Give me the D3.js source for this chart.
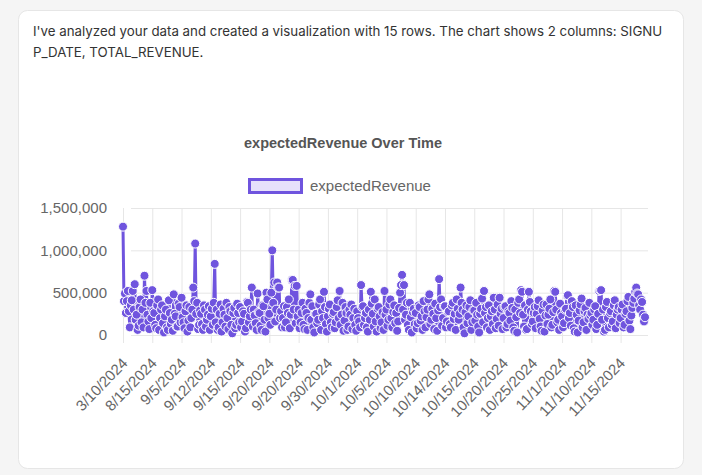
<!DOCTYPE html>
<html>
<head>
<meta charset="utf-8">
<script src="https://cdn.jsdelivr.net/npm/d3@7"></script>
<style>
  body { margin: 0; background: #f5f5f5; }
  svg { display: block; }
</style>
</head>
<body>
<div id="chart"></div>
<script>
// revenue per signup, in thousands (30 points between shown labels)
const revenueK = [
  1280, 400, 490, 260, 400, 520, 280, 90, 350, 410, 520, 300, 600, 180, 240, 60, 110, 330, 420, 150, 300, 90, 700, 380, 520, 240, 160, 70, 380, 200,
  530, 280, 260, 120, 80, 350, 420, 60, 200, 300, 350, 140, 30, 220, 300, 90, 60, 410, 260, 130, 180, 50, 480, 250, 220, 100, 100, 370, 330, 150,
  440, 210, 150, 80, 280, 350, 40, 170, 330, 90, 200, 300, 560, 400, 1080, 250, 380, 70, 120, 290, 250, 130, 60, 350, 300, 100, 180, 240, 340, 60,
  220, 310, 120, 380, 840, 150, 300, 60, 90, 250, 360, 40, 150, 310, 240, 100, 380, 200, 70, 330, 280, 120, 20, 260, 320, 80, 120, 370, 260, 150,
  330, 90, 160, 280, 250, 40, 80, 390, 380, 150, 220, 300, 560, 100, 300, 230, 140, 60, 490, 270, 260, 110, 60, 350, 340, 180, 40, 500, 420, 200,
  250, 120, 500, 1000, 380, 620, 160, 300, 620, 560, 560, 200, 280, 90, 200, 340, 90, 150, 330, 260, 420, 80, 240, 650, 650, 300, 580, 140, 580, 220,
  300, 80, 150, 260, 380, 120, 70, 310, 260, 60, 200, 380, 480, 180, 340, 90, 30, 250, 250, 140, 180, 360, 420, 60, 280, 200, 510, 330, 130, 40,
  220, 310, 360, 150, 90, 250, 270, 80, 150, 330, 410, 200, 520, 120, 240, 380, 50, 170, 330, 260, 60, 100, 300, 240, 360, 70, 200, 310, 120, 50,
  280, 200, 160, 90, 590, 330, 340, 120, 200, 260, 90, 40, 300, 180, 510, 370, 250, 100, 420, 160, 40, 310, 330, 220, 80, 150, 270, 60, 520, 240,
  300, 110, 180, 360, 420, 200, 90, 270, 350, 140, 260, 50, 160, 320, 500, 590, 710, 300, 590, 180, 240, 380, 120, 60, 380, 210, 30, 270, 310, 130,
  260, 80, 140, 350, 330, 170, 220, 60, 400, 280, 90, 210, 300, 420, 480, 130, 180, 310, 250, 70, 370, 200, 50, 290, 660, 330, 420, 110, 200, 340,
  340, 90, 160, 270, 280, 130, 90, 350, 380, 190, 250, 60, 420, 310, 180, 250, 560, 380, 300, 90, 20, 270, 350, 140, 220, 330, 410, 60, 150, 290,
  290, 170, 380, 240, 100, 30, 250, 310, 430, 150, 520, 260, 330, 90, 200, 350, 60, 220, 280, 130, 440, 300, 80, 190, 360, 110, 440, 250, 310, 70,
  200, 330, 340, 90, 130, 280, 260, 170, 400, 320, 90, 50, 300, 210, 30, 380, 420, 260, 530, 510, 240, 100, 350, 60, 70, 300, 510, 390, 280, 130,
  160, 260, 330, 80, 250, 340, 410, 190, 100, 50, 290, 360, 40, 230, 360, 130, 240, 310, 420, 90, 120, 270, 520, 510, 300, 150, 180, 60, 370, 260,
  220, 90, 140, 300, 310, 470, 470, 200, 260, 110, 400, 330, 80, 40, 350, 240, 30, 170, 290, 360, 430, 90, 150, 280, 320, 60, 240, 190, 380, 230,
  260, 120, 180, 300, 340, 70, 120, 250, 520, 530, 530, 180, 300, 40, 60, 330, 390, 200, 90, 260, 280, 120, 160, 350, 410, 80, 240, 300, 330, 140,
  200, 300, 360, 90, 120, 250, 280, 400, 450, 170, 70, 230, 320, 380, 430, 510, 560, 490, 480, 350, 300, 420, 390, 240, 160, 210
];
const revenue = revenueK.map(v => v * 1000);

// signup dates that Chart.js left visible on the x axis
const tickLabels = [
  '3/10/2024', '8/15/2024', '9/5/2024', '9/12/2024', '9/15/2024', '9/20/2024',
  '9/20/2024', '9/30/2024', '10/1/2024', '10/5/2024', '10/10/2024', '10/14/2024',
  '10/15/2024', '10/20/2024', '10/25/2024', '11/1/2024', '11/10/2024', '11/15/2024'
];
const tickEvery = 30;
const yTicks = [0, 500000, 1000000, 1500000];

const seriesName = 'expectedRevenue';
const purple = '#6f54de';

let width = 702,
    height = 475,
    plot = { left: 123, right: 645, top: 208, bottom: 335 };

let svg = d3.select('#chart')
  .append('svg')
    .attr('width', width)
    .attr('height', height);

// card
svg.append('rect')
  .attr('x', 18.5).attr('y', 10.5)
  .attr('width', 665).attr('height', 458)
  .attr('rx', 9)
  .attr('fill', 'white')
  .attr('stroke', '#e6e6e6');

svg.append('text')
  .attr('x', 33).attr('y', 36)
  .style('font-family', 'Inter, sans-serif')
  .style('font-size', '13.3px')
  .attr('fill', '#333')
  .text("I've analyzed your data and created a visualization with 15 rows. The chart shows 2 columns: SIGNU");
svg.append('text')
  .attr('x', 33).attr('y', 57)
  .style('font-family', 'Inter, sans-serif')
  .style('font-size', '13.3px')
  .attr('fill', '#333')
  .text('P_DATE, TOTAL_REVENUE.');

let x = d3.scaleLinear()
  .domain([0, revenue.length - 1])
  .range([plot.left, plot.right]);

let y = d3.scaleLinear()
  .domain([0, 1500000])
  .range([plot.bottom, plot.top]);

const chartFont = '"Liberation Sans", Arial, sans-serif';

// title
svg.append('text')
  .attr('x', 343).attr('y', 148)
  .attr('text-anchor', 'middle')
  .style('font-family', chartFont)
  .style('font-size', '14.5px')
  .style('font-weight', 'bold')
  .attr('fill', '#555')
  .text(seriesName + ' Over Time');

// legend
svg.append('rect')
  .attr('x', 249.5).attr('y', 179.5)
  .attr('width', 52).attr('height', 13)
  .attr('fill', '#e6e0fb')
  .attr('stroke', purple)
  .attr('stroke-width', 3);
svg.append('text')
  .attr('x', 310).attr('y', 191)
  .style('font-family', chartFont)
  .style('font-size', '15px')
  .attr('fill', '#666')
  .text(seriesName);

// y grid + labels
let yAxis = svg.append('g')
  .attr('transform', 'translate(' + plot.left + ',0)')
  .call(d3.axisLeft(y)
    .tickValues(yTicks)
    .tickFormat(d3.format(','))
    .tickSize(-(plot.right - plot.left + 3))
    .tickPadding(16));
yAxis.select('.domain').remove();
yAxis.selectAll('line').attr('stroke', '#e6e6e6').attr('x1', 8);
yAxis.selectAll('text')
  .style('font-family', chartFont)
  .style('font-size', '15px')
  .attr('fill', '#666');

// x grid + rotated labels
let xTickIdx = tickLabels.map((d, i) => i * tickEvery);
let xAxis = svg.append('g')
  .attr('transform', 'translate(0,' + plot.bottom + ')')
  .call(d3.axisBottom(x)
    .tickValues(xTickIdx)
    .tickFormat((d, i) => tickLabels[i])
    .tickSize(8));
xAxis.select('.domain').remove();
xAxis.selectAll('line')
  .attr('stroke', '#e6e6e6')
  .attr('y1', -(plot.bottom - plot.top));
xAxis.selectAll('text')
  .style('font-family', chartFont)
  .style('font-size', '15px')
  .attr('fill', '#666')
  .attr('text-anchor', 'end')
  .attr('y', 0)
  .attr('dy', 0)
  .attr('transform', 'translate(5,29) rotate(-46)');

// line then points
let line = d3.line()
  .x((d, i) => x(i))
  .y(d => y(d));

svg.append('path')
  .datum(revenue)
  .attr('d', line)
  .attr('fill', 'none')
  .attr('stroke', purple)
  .attr('stroke-width', 3)
  .attr('stroke-linejoin', 'round');

svg.selectAll('circle.pt')
  .data(revenue)
  .enter()
  .append('circle')
    .attr('class', 'pt')
    .attr('cx', (d, i) => x(i))
    .attr('cy', d => y(d))
    .attr('r', 4.5)
    .attr('fill', purple)
    .attr('stroke', 'white')
    .attr('stroke-width', 1);
</script>
</body>
</html>
